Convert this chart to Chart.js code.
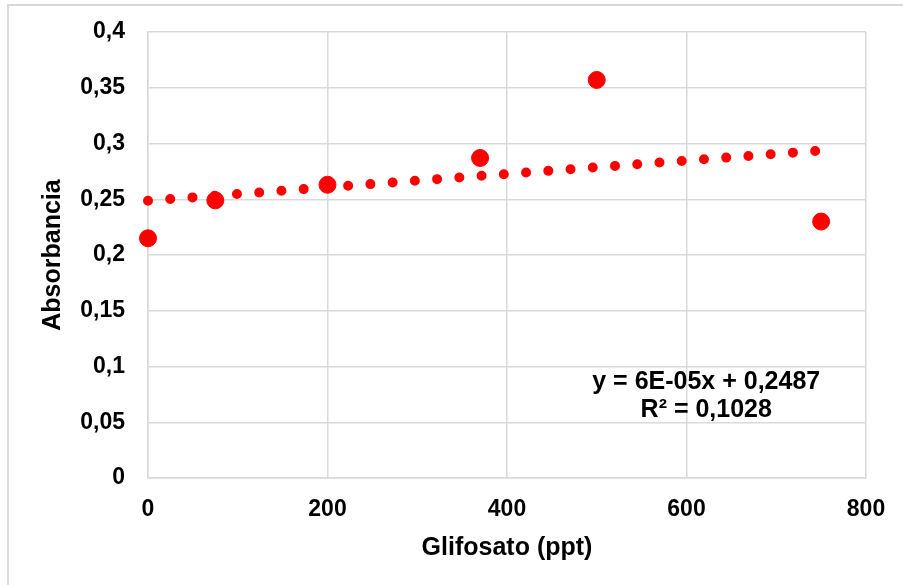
<!DOCTYPE html>
<html>
<head>
<meta charset="utf-8">
<script src="https://cdn.jsdelivr.net/npm/chart.js@4.4.0/dist/chart.umd.min.js"></script>
<style>
  html, body { margin: 0; padding: 0; background: #fff; }
  #wrap { width: 903px; height: 585px; position: relative; }
</style>
</head>
<body>
<div id="wrap"><canvas id="chart"></canvas></div>
<script>
// measured points
const glifosato = [0, 75, 200, 370, 500, 750];
const absorbancia = [0.215, 0.249, 0.263, 0.287, 0.357, 0.230];

// linear trend line ends (y = 6E-05x + 0,2487)
const trendX = [0, 750];
const trendY = [0.2487, 0.2937];

const eqLines = ['y = 6E-05x + 0,2487', 'R\u00B2 = 0,1028'];

const RED = 'rgb(255, 0, 0)';
const GRID = '#d9d9d9';
const FONT = '"Liberation Sans", Arial, sans-serif';

const toPoints = (xs, ys) => xs.map((x, i) => ({ x: x, y: ys[i] }));

const frameAndLabel = {
    id: 'frameAndLabel',
    beforeDraw(chart) {
        const ctx = chart.ctx;
        ctx.save();
        ctx.strokeStyle = GRID;
        ctx.lineWidth = 2;
        ctx.beginPath();
        ctx.moveTo(8, 585);
        ctx.lineTo(8, 5);
        ctx.lineTo(903, 5);
        ctx.stroke();
        ctx.restore();
    },
    afterDraw(chart) {
        const ctx = chart.ctx;
        const xs = chart.scales.x, ys = chart.scales.y;
        const cx = xs.getPixelForValue(622);
        ctx.save();
        ctx.fillStyle = '#000';
        ctx.font = 'bold 25px ' + FONT;
        ctx.textAlign = 'center';
        ctx.textBaseline = 'middle';
        ctx.fillText(eqLines[0], cx, ys.getPixelForValue(0.086));
        ctx.fillText(eqLines[1], cx, ys.getPixelForValue(0.061));
        ctx.restore();
    }
};

const data = {
    datasets: [
        {
            type: 'scatter',
            label: 'Absorbancia',
            data: toPoints(glifosato, absorbancia),
            backgroundColor: RED,
            borderColor: RED,
            pointRadius: 8.5,
            pointHoverRadius: 8.5,
            clip: false,
            order: 1,
        },
        {
            type: 'line',
            label: 'Lineal',
            data: toPoints(trendX, trendY),
            borderColor: RED,
            borderWidth: 10,
            borderDash: [0, 22.3],
            borderCapStyle: 'round',
            pointRadius: 0,
            fill: false,
            clip: false,
            order: 2,
        }
    ]
};

const config = {
    type: 'scatter',
    data: data,
    plugins: [frameAndLabel],
    options: {
        responsive: false,
        animation: false,
        devicePixelRatio: 1,
        layout: { padding: { left: 38, right: 37, top: 32, bottom: 22 } },
        plugins: {
            legend: { display: false },
            tooltip: { enabled: false },
        },
        scales: {
            x: {
                type: 'linear',
                min: 0,
                max: 800,
                afterFit: (scale) => { scale.height = 563 - 478; },
                ticks: {
                    stepSize: 200,
                    padding: 0,
                    color: '#000',
                    font: { family: FONT, size: 23, weight: 'bold' },
                },
                grid: { color: GRID, lineWidth: 1.5, tickLength: 18, tickColor: 'rgba(0,0,0,0)' },
                border: { color: GRID, width: 1.5 },
                title: {
                    display: true,
                    text: 'Glifosato (ppt)',
                    color: '#000',
                    padding: 0,
                    font: { family: FONT, size: 25, weight: 'bold' },
                },
            },
            y: {
                type: 'linear',
                min: 0,
                max: 0.4,
                afterFit: (scale) => { scale.width = 148 - 38; },
                ticks: {
                    stepSize: 0.05,
                    padding: 0,
                    color: '#000',
                    font: { family: FONT, size: 23, weight: 'bold' },
                    callback: (v) => Number(v.toFixed(2)).toString().replace('.', ','),
                },
                grid: { color: GRID, lineWidth: 1.5, tickLength: 23, tickColor: 'rgba(0,0,0,0)' },
                border: { color: GRID, width: 1.5 },
                title: {
                    display: true,
                    text: 'Absorbancia',
                    color: '#000',
                    padding: 0,
                    font: { family: FONT, size: 25, weight: 'bold' },
                },
            },
        },
    },
};

const canvas = document.getElementById('chart');
canvas.width = 903;
canvas.height = 585;
new Chart(canvas, config);
</script>
</body>
</html>
